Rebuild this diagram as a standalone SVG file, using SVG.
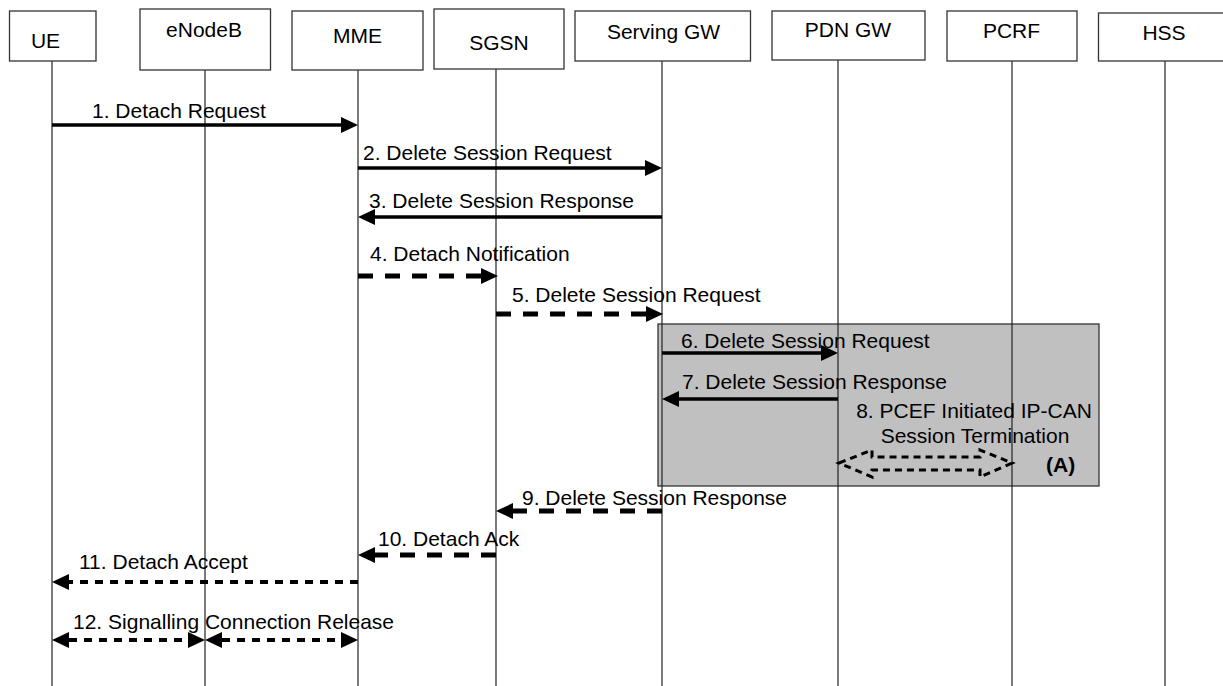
<svg xmlns="http://www.w3.org/2000/svg" width="1223" height="686" viewBox="0 0 1223 686">
<style>
text{font-family:"Liberation Sans",Arial,sans-serif;font-size:21px;fill:#000}
.box{fill:#fff;stroke:#333;stroke-width:1.3}
.life{stroke:#222;stroke-width:1.2}
.solid{stroke:#000;stroke-width:3.5;fill:none}
.dash{stroke:#000;stroke-width:5;fill:none;stroke-dasharray:15 12}
.fdash{stroke:#000;stroke-width:4;fill:none;stroke-dasharray:8 7}
.c{text-anchor:middle}
</style>
<defs>
<marker id="ah" markerUnits="userSpaceOnUse" markerWidth="17" markerHeight="16" viewBox="0 0 17 16" refX="0" refY="8" orient="auto-start-reverse"><path d="M0,0 L17,8 L0,16 z" fill="#000"/></marker>
</defs>
<rect id="areaA" x="658" y="324" width="441" height="162" fill="#c0c0c0" stroke="#333" stroke-width="1.3"/>
<g id="lifelines">
<line class="life" x1="52" y1="61" x2="52" y2="686"/>
<line class="life" x1="205" y1="70" x2="205" y2="686"/>
<line class="life" x1="358" y1="70" x2="358" y2="686"/>
<line class="life" x1="496" y1="69" x2="496" y2="686"/>
<line class="life" x1="662" y1="61" x2="662" y2="686"/>
<line class="life" x1="838" y1="60" x2="838" y2="686"/>
<line class="life" x1="1012" y1="61" x2="1012" y2="686"/>
<line class="life" x1="1165" y1="61" x2="1165" y2="686"/>
</g>
<g id="UE"><rect class="box" x="9.5" y="11" width="86.5" height="50"/><text class="c" x="45.5" y="48">UE</text></g>
<g id="eNodeB"><rect class="box" x="140" y="9" width="130.5" height="61"/><text class="c" x="204" y="37">eNodeB</text></g>
<g id="MME"><rect class="box" x="292" y="11" width="131" height="59"/><text class="c" x="357.5" y="43">MME</text></g>
<g id="SGSN"><rect class="box" x="434" y="9" width="130" height="60"/><text class="c" x="499" y="50">SGSN</text></g>
<g id="ServingGW"><rect class="box" x="575" y="11" width="175.5" height="50"/><text class="c" x="663.5" y="39">Serving GW</text></g>
<g id="PDNGW"><rect class="box" x="772" y="11" width="153" height="49"/><text class="c" x="848" y="37">PDN GW</text></g>
<g id="PCRF"><rect class="box" x="947" y="11" width="130" height="50"/><text class="c" x="1011.5" y="38">PCRF</text></g>
<g id="HSS"><rect class="box" x="1098.5" y="13" width="130" height="48"/><text class="c" x="1164" y="40">HSS</text></g>
<g id="connectors">
<line class="solid" x1="52" y1="125" x2="341" y2="125" marker-end="url(#ah)"/>
<line class="solid" x1="358" y1="168" x2="645" y2="168" marker-end="url(#ah)"/>
<line class="solid" x1="662" y1="217" x2="375" y2="217" marker-end="url(#ah)"/>
<line class="dash" x1="358" y1="276" x2="481" y2="276" marker-end="url(#ah)"/>
<line class="dash" x1="496" y1="314" x2="646" y2="314" marker-end="url(#ah)"/>
<line class="solid" x1="662" y1="353" x2="821" y2="353" marker-end="url(#ah)"/>
<line class="solid" x1="838" y1="399" x2="679" y2="399" marker-end="url(#ah)"/>
<polygon points="839,463 872,450 872,457 980,457 980,450 1012,463 980,477 980,470 872,470 872,477" fill="none" stroke="#000" stroke-width="3" stroke-dasharray="7 5"/>
<line class="dash" x1="662" y1="511" x2="513" y2="511" marker-end="url(#ah)"/>
<line class="dash" x1="496" y1="555" x2="375" y2="555" marker-end="url(#ah)"/>
<line class="fdash" x1="358" y1="582" x2="69" y2="582" marker-end="url(#ah)"/>
<line class="fdash" x1="69" y1="640" x2="188" y2="640" marker-start="url(#ah)" marker-end="url(#ah)"/>
<line class="fdash" x1="222" y1="640" x2="341" y2="640" marker-start="url(#ah)" marker-end="url(#ah)"/>
</g>
<g id="labels">
<text x="92" y="118">1. Detach Request</text>
<text x="363" y="160">2. Delete Session Request</text>
<text x="369" y="208">3. Delete Session Response</text>
<text x="370" y="261">4. Detach Notification</text>
<text x="512" y="302">5. Delete Session Request</text>
<text x="681" y="348">6. Delete Session Request</text>
<text x="682" y="389">7. Delete Session Response</text>
<text class="c" x="974" y="418">8. PCEF Initiated IP-CAN</text>
<text class="c" x="975" y="443">Session Termination</text>
<text x="1046" y="472" font-weight="bold">(A)</text>
<text x="522" y="505">9. Delete Session Response</text>
<text x="378" y="546">10. Detach Ack</text>
<text x="79" y="569">11. Detach Accept</text>
<text x="73" y="629">12. Signalling Connection Release</text>
</g>
</svg>
